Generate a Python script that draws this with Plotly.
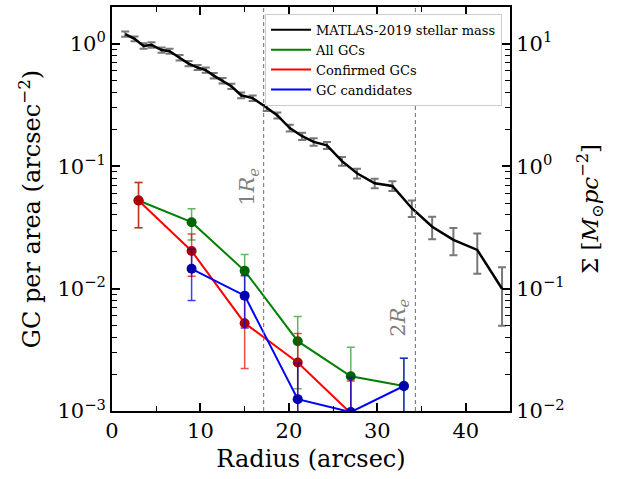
import plotly.graph_objects as go

# ---- stellar mass surface density profile (right axis, M_sun / pc^2) ----
mass_radius = [1.5, 2.55, 3.57, 4.47, 5.61, 6.51, 7.64, 8.66, 9.68, 10.6,
               11.5, 12.5, 13.5, 14.6, 15.9, 17.5, 18.7, 20.1, 21.5, 22.8,
               24.3, 26.0, 27.7, 29.7, 31.7, 33.9, 36.2, 38.6, 41.3, 44.1]
mass_sigma = [12.0, 11.0, 9.6, 9.8, 8.9, 8.7, 7.7, 6.9, 6.4, 6.1,
              5.5, 5.0, 4.5, 3.8, 3.6, 3.0, 2.6, 2.05, 1.76, 1.58,
              1.48, 1.10, 0.875, 0.725, 0.69, 0.454, 0.32, 0.25, 0.207, 0.0998]
mass_err = [0.6, 0.5, 0.5, 0.5, 0.45, 0.4, 0.4, 0.35, 0.3, 0.3,
            0.28, 0.25, 0.23, 0.2, 0.19, 0.17, 0.15, 0.13, 0.12, 0.11,
            0.1, 0.09, 0.08, 0.065, 0.063, 0.07, 0.067, 0.063, 0.075, 0.05]

# ---- GC number density profiles (left axis, per arcsec^2) ----
gc_radius = [3, 9, 15, 21, 27, 33]
all_gc = [0.0525, 0.0349, 0.01397, 0.00372, 0.00192, 0.0016]
all_gc_err = [0.021, 0.010, 0.005, 0.0022, 0.0014, 0.0011]
conf_gc = [0.0525, 0.0203, 0.00522, 0.00249, 0.00096, None]
conf_gc_err = [0.021, 0.0077, 0.003, 0.0018, 0.0008, None]
cand_gc = [None, 0.01451, 0.00876, 0.00125, 0.00098, 0.0016]
cand_gc_err = [None, 0.0065, 0.004, 0.0012, 0.0009, 0.0011]

# effective radius (arcsec)
r_e = 17.15

# tick labels
left_tickvals = [1e-3, 1e-2, 1e-1, 1]
left_ticktext = ["10<sup>\u22123</sup>", "10<sup>\u22122</sup>",
                 "10<sup>\u22121</sup>", "10<sup>0</sup>"]
right_tickvals = [1e-2, 1e-1, 1, 10]
right_ticktext = ["10<sup>\u22122</sup>", "10<sup>\u22121</sup>",
                  "10<sup>0</sup>", "10<sup>1</sup>"]
x_tickvals = [0, 10, 20, 30, 40]

FONT = "DejaVu Serif"


def minor_log(lo_exp, hi_exp):
    return [m * 10 ** e for e in range(lo_exp, hi_exp) for m in range(2, 10)]


fig = go.Figure()

gc_series = [
    ("All GCs", all_gc, all_gc_err, "#008000", "#006400", "rgba(0,128,0,0.6)"),
    ("Confirmed GCs", conf_gc, conf_gc_err, "#ff0000", "#b00000", "rgba(230,0,0,0.7)"),
    ("GC candidates", cand_gc, cand_gc_err, "#0000ff", "#0000b0", "rgba(0,0,230,0.75)"),
]

for name, vals, errs, lc, mc, ec in gc_series:
    fig.add_trace(go.Scatter(
        x=gc_radius, y=vals, mode="lines+markers", name=name,
        showlegend=False, xaxis="x", yaxis="y",
        line=dict(color=lc, width=2),
        marker=dict(color=mc, size=10, line=dict(width=0)),
        error_y=dict(type="data", array=errs, visible=True,
                     color=ec, thickness=1.5, width=4),
    ))

fig.add_trace(go.Scatter(
    x=mass_radius, y=mass_sigma, mode="lines", name="MATLAS-2019 stellar mass",
    showlegend=False, xaxis="x", yaxis="y2",
    line=dict(color="black", width=2.5),
    error_y=dict(type="data", array=mass_err, visible=True,
                 color="rgb(120,120,120)", thickness=2, width=4),
))

# legend entries (line samples only)
legend_items = [("MATLAS-2019 stellar mass", "black"), ("All GCs", "#008000"),
                ("Confirmed GCs", "#ff0000"), ("GC candidates", "#0000ff")]
for name, col in legend_items:
    fig.add_trace(go.Scatter(x=[None], y=[None], mode="lines", name=name,
                             line=dict(color=col, width=2), xaxis="x", yaxis="y"))

# dashed markers at 1 and 2 effective radii
for k in (1, 2):
    fig.add_shape(type="line", xref="x", yref="paper", x0=k * r_e, x1=k * r_e,
                  y0=0, y1=1, line=dict(color="rgb(110,110,110)", width=1, dash="4px,3px"))

fig.add_annotation(x=r_e, xref="x", y=0.554, yref="paper", xshift=-15,
                   text="1<i>R</i><sub><i>e</i></sub>", textangle=-90, showarrow=False,
                   font=dict(family=FONT, size=21, color="rgb(128,128,128)"))
fig.add_annotation(x=2 * r_e, xref="x", y=0.18, yref="paper", xshift=-16,
                   text="2<i>R</i><sub><i>e</i></sub>", textangle=-90, showarrow=False,
                   font=dict(family=FONT, size=21, color="rgb(128,128,128)"))

axis_common = dict(ticks="inside", ticklen=8, tickwidth=1.5, tickcolor="black",
                   showgrid=False, zeroline=False, showline=True, linewidth=2,
                   linecolor="black", tickfont=dict(family=FONT, size=21, color="black"))

fig.update_layout(
    width=624, height=479,
    margin=dict(l=112, r=114, t=5, b=68),
    paper_bgcolor="white", plot_bgcolor="white",
    font=dict(family=FONT, color="black"),
    xaxis=dict(range=[0, 45], tickvals=x_tickvals, mirror="ticks",
               minor=dict(tickvals=[5, 15, 25, 35], ticks="inside", ticklen=5,
                          tickwidth=1.2, tickcolor="black"),
               title=dict(text="Radius (arcsec)", font=dict(family=FONT, size=24),
                          standoff=8),
               **axis_common),
    yaxis=dict(type="log", range=[-3, 0.301], tickvals=left_tickvals,
               ticktext=left_ticktext, mirror=True,
               minor=dict(tickvals=minor_log(-3, 1), ticks="inside", ticklen=5,
                          tickwidth=1.2, tickcolor="black"),
               title=dict(text="GC per area (arcsec<sup>\u22122</sup>)",
                          font=dict(family=FONT, size=24), standoff=10),
               **axis_common),
    yaxis2=dict(type="log", range=[-2, 1.301], overlaying="y", side="right",
                tickvals=right_tickvals, ticktext=right_ticktext,
                minor=dict(tickvals=minor_log(-2, 2), ticks="inside", ticklen=5,
                           tickwidth=1.2, tickcolor="black"),
                title=dict(text="\u03a3 [<i>M</i><sub>\u2299</sub><i>pc</i><sup>\u22122</sup>]",
                           font=dict(family=FONT, size=23), standoff=18),
                **axis_common),
    legend=dict(x=0.98, xanchor="right", y=0.983, yanchor="top",
                bgcolor="white", bordercolor="#cccccc", borderwidth=1,
                font=dict(family=FONT, size=13), tracegroupgap=0, itemwidth=40),
)

fig.write_html("out.html")
